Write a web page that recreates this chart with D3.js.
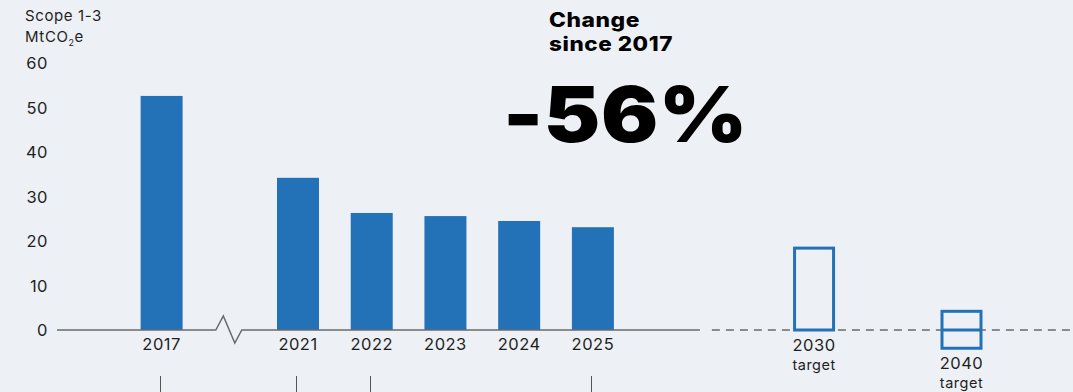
<!DOCTYPE html>
<html>
<head>
<meta charset="utf-8">
<script src="https://cdn.jsdelivr.net/npm/d3@7"></script>
<style>
  html, body { margin: 0; padding: 0; background: #edf0f5; }
  svg { display: block; }
  text { font-family: Inter, "Noto Sans", "DejaVu Sans", sans-serif; fill: #1f1f1f; letter-spacing: 0.5px; }
</style>
</head>
<body>
<svg id="chart" width="1073" height="392"></svg>
<script>
// Scope 1-3 emissions, MtCO2e
const years = ["2017", "2021", "2022", "2023", "2024", "2025"];
const emissions = [52.6, 34.2, 26.3, 25.6, 24.5, 23.1];

// Target ranges (low, high), MtCO2e
const targetLabels = ["2030", "2040"];
const targetLow = [0, -4.1];
const targetHigh = [18.4, 4.2];
const targetMid = [null, 0];

const yTicks = [0, 10, 20, 30, 40, 50, 60];
const changeTitle = ["Change", "since 2017"];
const changeValue = "-56%";

// Horizontal slot of each column (2017 sits before the axis break)
const slots = { "2017": -1.85, "2021": 0, "2022": 1, "2023": 2, "2024": 3, "2025": 4, "2030": 7, "2040": 9 };

const svg = d3.select("#chart");
const blue = "#2372b8";
const axisGrey = "#6a6a6a";
const barW = 42;

const x = d3.scaleLinear().domain([0, 9]).range([298, 961.5]);
const y = d3.scaleLinear().domain([0, 60]).range([330, 63]);

// y tick labels
svg.append("g").selectAll("text").data(yTicks).join("text")
  .attr("x", 48).attr("y", d => y(d))
  .attr("text-anchor", "end").attr("dominant-baseline", "central")
  .style("font-size", "16.5px")
  .text(d => d);

// unit title
const unit = svg.append("text").attr("x", 25).style("font-size", "15px").style("letter-spacing", "0.6px");
unit.append("tspan").attr("x", 25).attr("y", 21).text("Scope 1-3");
const l2 = unit.append("tspan").attr("x", 25).attr("y", 42).text("MtCO");
l2.append("tspan").attr("dy", 4).style("font-size", "9px").text("2");
l2.append("tspan").attr("dy", -4).text("e");

// bars
svg.append("g").selectAll("rect").data(years).join("rect")
  .attr("x", d => x(slots[d]) - barW / 2)
  .attr("width", barW)
  .attr("y", (d, i) => y(emissions[i]))
  .attr("height", (d, i) => y(0) - y(emissions[i]))
  .attr("fill", blue);

// baseline with break between 2017 and 2021
const breakC = (x(slots["2017"]) + x(slots["2021"])) / 2;
const y0 = y(0);
svg.append("path")
  .attr("d", d3.line()([
    [57, y0], [breakC - 14, y0], [breakC - 6.5, y0 - 14], [breakC + 5, y0 + 13],
    [breakC + 12, y0], [x(slots["2025"]) + 107, y0]
  ]))
  .attr("fill", "none").attr("stroke", axisGrey).attr("stroke-width", 1.5)
  .attr("stroke-linejoin", "miter");

// dashed baseline for the target period
svg.append("line")
  .attr("x1", x(slots["2025"]) + 119).attr("x2", 1073)
  .attr("y1", y0).attr("y2", y0)
  .attr("stroke", axisGrey).attr("stroke-width", 1.5)
  .attr("stroke-dasharray", "8 6");

// target boxes
const tg = svg.append("g");
targetLabels.forEach((t, i) => {
  const cx = x(slots[t]);
  tg.append("rect")
    .attr("x", cx - 19.5).attr("width", 39)
    .attr("y", y(targetHigh[i])).attr("height", y(targetLow[i]) - y(targetHigh[i]))
    .attr("fill", "none").attr("stroke", blue).attr("stroke-width", 3);
  if (targetMid[i] !== null) {
    tg.append("line")
      .attr("x1", cx - 19.5).attr("x2", cx + 19.5)
      .attr("y1", y(targetMid[i])).attr("y2", y(targetMid[i]))
      .attr("stroke", blue).attr("stroke-width", 3);
  }
  const ly = Math.max(y0, y(targetLow[i])) + 15;
  tg.append("text").attr("x", cx).attr("y", ly)
    .attr("text-anchor", "middle").attr("dominant-baseline", "central")
    .style("font-size", "16.5px").text(t);
  tg.append("text").attr("x", cx).attr("y", ly + 19)
    .attr("text-anchor", "middle").attr("dominant-baseline", "central")
    .style("font-size", "14.5px").text("target");
});

// year labels
svg.append("g").selectAll("text").data(years).join("text")
  .attr("x", d => x(slots[d])).attr("y", 344)
  .attr("text-anchor", "middle").attr("dominant-baseline", "central")
  .style("font-size", "16.5px")
  .text(d => d);

// leader stubs below selected years
const stubYears = ["2017", "2021", "2022", "2025"];
svg.append("g").selectAll("line").data(stubYears).join("line")
  .attr("x1", d => Math.round(x(slots[d])) - 1.5).attr("x2", d => Math.round(x(slots[d])) - 1.5)
  .attr("y1", 376).attr("y2", 392)
  .attr("stroke", "#555").attr("stroke-width", 1);

// headline figure
svg.append("text").attr("x", 549).attr("y", 26.5)
  .attr("textLength", 91).attr("lengthAdjust", "spacingAndGlyphs")
  .style("font-size", "20px").style("font-weight", 800)
  .style("fill", "#000").text(changeTitle[0]);
svg.append("text").attr("x", 549).attr("y", 50.5)
  .attr("textLength", 124).attr("lengthAdjust", "spacingAndGlyphs")
  .style("font-size", "20px").style("font-weight", 800)
  .style("fill", "#000").text(changeTitle[1]);
svg.append("text").attr("x", 503).attr("y", 141.5)
  .attr("textLength", 245).attr("lengthAdjust", "spacingAndGlyphs")
  .style("font-size", "77px").style("font-weight", 900)
  .style("fill", "#000").text(changeValue);
</script>
</body>
</html>
